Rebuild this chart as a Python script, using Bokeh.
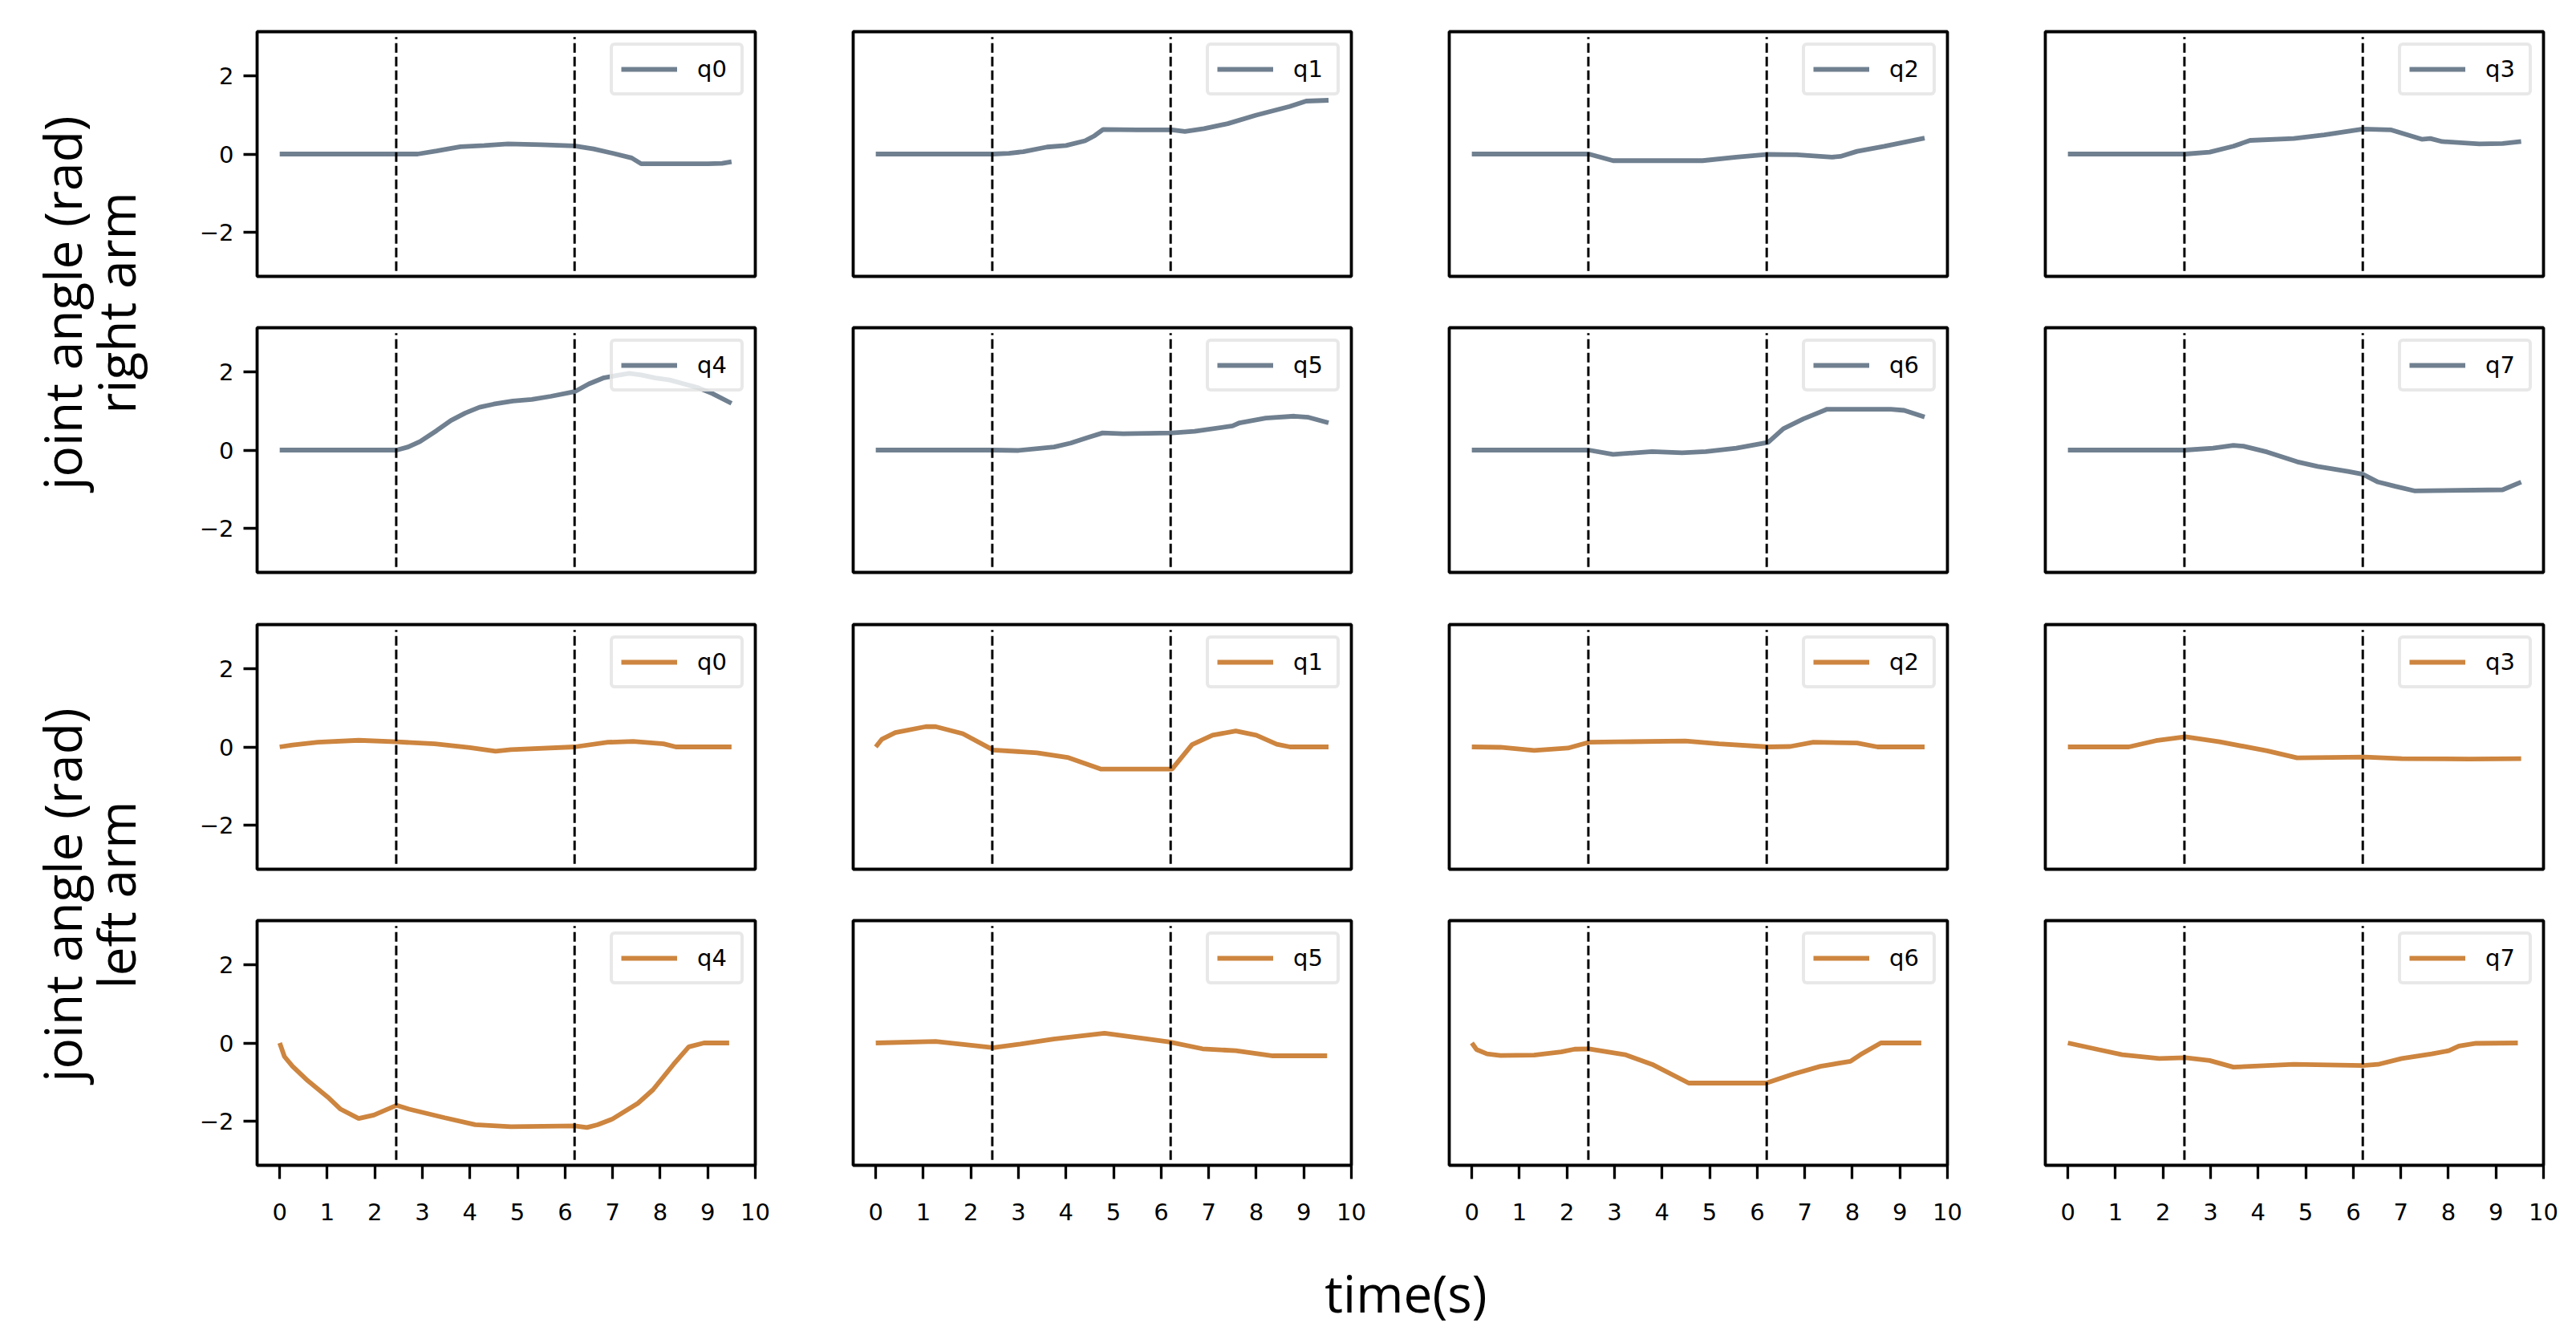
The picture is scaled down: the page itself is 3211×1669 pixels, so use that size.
import math
from bokeh.plotting import figure
from bokeh.layouts import row, column
from bokeh.models import FixedTicker, Legend, LegendItem, Label, Range1d
from bokeh.embed import file_html
from bokeh.resources import INLINE

# ---------------- data ----------------
joint_names = ["q0", "q1", "q2", "q3", "q4", "q5", "q6", "q7"]
phase_lines = [2.45, 6.2]
x_ticks = [0, 1, 2, 3, 4, 5, 6, 7, 8, 9, 10]
y_ticks = [-2, 0, 2]
y_tick_labels = {-2: "\u22122", 0: "0", 2: "2"}
row_labels = [("joint angle (rad)", "right arm"), ("joint angle (rad)", "left arm")]
x_label = "time(s)"

# right arm
r_q0_t = [0, 2.46, 2.9, 3.3, 3.8, 4.3, 4.8, 5.5, 6.2, 6.6, 7.0, 7.4, 7.6, 8.0, 9.0, 9.3, 9.5]
r_q0_v = [0, 0, 0, 0.08, 0.19, 0.22, 0.26, 0.24, 0.21, 0.13, 0.02, -0.1, -0.25, -0.25, -0.25, -0.24, -0.2]
r_q1_t = [0, 2.47, 2.8, 3.1, 3.6, 4.0, 4.4, 4.6, 4.78, 5.5, 6.23, 6.5, 6.9, 7.4, 8.0, 8.7, 9.05, 9.52]
r_q1_v = [0, 0, 0.02, 0.06, 0.18, 0.22, 0.34, 0.47, 0.63, 0.62, 0.62, 0.58, 0.65, 0.78, 1.0, 1.22, 1.36, 1.38]
r_q2_t = [0, 2.46, 2.97, 4.85, 5.56, 6.23, 6.83, 7.57, 7.75, 8.1, 8.67, 9.52]
r_q2_v = [0, 0, -0.17, -0.17, -0.08, -0.01, -0.02, -0.08, -0.06, 0.07, 0.2, 0.41]
r_q3_t = [0, 2.47, 2.98, 3.48, 3.83, 4.75, 5.39, 6.2, 6.8, 7.44, 7.62, 7.87, 8.65, 9.14, 9.53]
r_q3_v = [0, 0, 0.05, 0.2, 0.35, 0.4, 0.49, 0.64, 0.62, 0.38, 0.4, 0.32, 0.26, 0.27, 0.32]
r_q4_t = [0, 2.46, 2.7, 2.95, 3.3, 3.6, 3.9, 4.2, 4.5, 4.9, 5.3, 5.7, 6.2, 6.5, 6.8, 7.1, 7.35, 7.6, 7.9, 8.2, 8.5, 8.8, 9.1, 9.5]
r_q4_v = [0, 0, 0.08, 0.22, 0.5, 0.76, 0.95, 1.1, 1.18, 1.26, 1.3, 1.38, 1.5, 1.7, 1.85, 1.92, 1.97, 1.93, 1.85, 1.8, 1.7, 1.6, 1.45, 1.2]
r_q5_t = [0, 2.47, 3.0, 3.75, 4.1, 4.45, 4.77, 5.2, 6.23, 6.7, 7.5, 7.65, 8.2, 8.8, 9.1, 9.52]
r_q5_v = [0, 0, -0.01, 0.08, 0.18, 0.32, 0.44, 0.42, 0.44, 0.48, 0.62, 0.7, 0.82, 0.87, 0.84, 0.7]
r_q6_t = [0, 2.46, 2.97, 3.79, 4.42, 4.92, 5.56, 6.23, 6.55, 6.97, 7.47, 8.81, 9.09, 9.52]
r_q6_v = [0, 0, -0.11, -0.04, -0.07, -0.04, 0.05, 0.2, 0.55, 0.8, 1.05, 1.05, 1.02, 0.85]
r_q7_t = [0, 2.47, 3.05, 3.48, 3.69, 4.19, 4.82, 5.25, 5.89, 6.2, 6.52, 6.88, 7.3, 9.14, 9.53]
r_q7_v = [0, 0, 0.05, 0.12, 0.1, -0.05, -0.3, -0.42, -0.55, -0.62, -0.82, -0.93, -1.05, -1.02, -0.82]

# left arm
l_q0_t = [0, 0.27, 0.8, 1.66, 2.46, 3.26, 4.0, 4.54, 4.86, 6.2, 6.9, 7.43, 8.07, 8.33, 9.5]
l_q0_v = [0, 0.05, 0.12, 0.17, 0.13, 0.08, -0.02, -0.11, -0.07, 0, 0.12, 0.14, 0.08, 0, 0]
l_q1_t = [0, 0.13, 0.41, 1.05, 1.26, 1.83, 2.47, 3.39, 4.03, 4.74, 6.23, 6.65, 7.08, 7.57, 8.0, 8.43, 8.71, 9.52]
l_q1_v = [0, 0.2, 0.37, 0.52, 0.52, 0.34, -0.08, -0.15, -0.27, -0.57, -0.57, 0.06, 0.3, 0.41, 0.3, 0.07, 0, 0]
l_q2_t = [0, 0.6, 1.31, 2.02, 2.46, 3.08, 4.49, 5.2, 6.23, 6.69, 7.18, 8.1, 8.53, 9.52]
l_q2_v = [0, -0.01, -0.09, -0.03, 0.12, 0.13, 0.15, 0.08, 0, 0.01, 0.12, 0.1, 0, 0]
l_q3_t = [0, 1.28, 1.85, 2.47, 3.19, 4.19, 4.82, 6.24, 7.02, 8.43, 9.53]
l_q3_v = [0, 0, 0.16, 0.26, 0.13, -0.1, -0.28, -0.26, -0.3, -0.31, -0.3]
l_q4_t = [0, 0.1, 0.27, 0.59, 1.01, 1.28, 1.66, 1.98, 2.46, 2.72, 3.47, 4.11, 4.86, 6.2, 6.46, 6.68, 7.0, 7.53, 7.85, 8.28, 8.6, 8.92, 9.45]
l_q4_v = [0, -0.35, -0.6, -0.97, -1.39, -1.7, -1.94, -1.85, -1.6, -1.7, -1.92, -2.1, -2.15, -2.13, -2.17, -2.1, -1.95, -1.55, -1.2, -0.55, -0.1, 0, 0]
l_q5_t = [0, 1.26, 2.47, 3.04, 3.74, 4.81, 6.16, 6.87, 7.57, 8.35, 9.49]
l_q5_v = [0, 0.04, -0.12, -0.03, 0.1, 0.25, 0.03, -0.15, -0.2, -0.33, -0.33]
l_q6_t = [0, 0.1, 0.32, 0.6, 1.31, 1.88, 2.16, 2.46, 3.22, 3.79, 4.56, 6.19, 6.76, 7.33, 7.96, 8.17, 8.6, 9.45]
l_q6_v = [0, -0.17, -0.28, -0.32, -0.31, -0.23, -0.16, -0.15, -0.3, -0.55, -1.03, -1.03, -0.8, -0.6, -0.47, -0.3, 0, 0]
l_q7_t = [0, 0.64, 1.14, 1.92, 2.47, 2.98, 3.48, 4.75, 6.2, 6.52, 7.02, 7.65, 8.01, 8.22, 8.58, 9.46]
l_q7_v = [0, -0.17, -0.3, -0.4, -0.38, -0.45, -0.62, -0.55, -0.58, -0.55, -0.4, -0.28, -0.2, -0.08, -0.01, 0]

right_series = [(r_q0_t, r_q0_v), (r_q1_t, r_q1_v), (r_q2_t, r_q2_v), (r_q3_t, r_q3_v),
                (r_q4_t, r_q4_v), (r_q5_t, r_q5_v), (r_q6_t, r_q6_v), (r_q7_t, r_q7_v)]
left_series = [(l_q0_t, l_q0_v), (l_q1_t, l_q1_v), (l_q2_t, l_q2_v), (l_q3_t, l_q3_v),
               (l_q4_t, l_q4_v), (l_q5_t, l_q5_v), (l_q6_t, l_q6_v), (l_q7_t, l_q7_v)]

# ---------------- style / layout ----------------
RIGHT_COLOR = "#708090"
LEFT_COLOR = "#CD853F"
FRAME_W, FRAME_H = 621, 305
LABEL_W = 200
BL = [120, 61, 61, 61]
BR = [61, 61, 61, 20]
BT = [39, 32, 33, 32]
BB = [32, 32, 32, 90]
TICK_FONT = "DejaVu Sans"
TITLE_FONT = "Open Sans"
TITLE_SIZE = "64px"


def make_panel(t, v, name, color, r, c):
    show_x = (r == 3)
    show_y = (c == 0)
    W = BL[c] + FRAME_W + BR[c]
    H = BT[r] + FRAME_H + BB[r]
    p = figure(width=W, height=H,
               x_range=Range1d(-0.475, 10.0), y_range=Range1d(-math.pi, math.pi),
               output_backend="svg", toolbar_location=None, tools="",
               x_axis_location="below" if show_x else None,
               y_axis_location="left" if show_y else None,
               min_border_left=BL[c], min_border_right=BR[c],
               min_border_top=BT[r], min_border_bottom=BB[r])
    p.xgrid.visible = False
    p.ygrid.visible = False
    p.background_fill_color = "white"
    p.border_fill_color = "white"
    p.outline_line_color = "black"
    p.outline_line_width = 3.8
    p.outline_line_alpha = 1.0

    ln = p.line(t, v, line_color=color, line_width=5.8)
    p.segment(x0=phase_lines, y0=[-3] * len(phase_lines), x1=phase_lines, y1=[3] * len(phase_lines),
              line_color="black", line_width=3, line_dash="12 5")

    for ax in (p.xaxis if show_x else []):
        ax.ticker = FixedTicker(ticks=x_ticks)
        ax.axis_line_color = None
        ax.major_tick_in = 0
        ax.major_tick_out = 17
        ax.major_tick_line_width = 3.3
        ax.major_tick_line_color = "black"
        ax.minor_tick_line_color = None
        ax.major_label_standoff = 30
        ax.major_label_text_font = TICK_FONT
        ax.major_label_text_font_size = "29px"
        ax.major_label_text_color = "black"
    for ax in (p.yaxis if show_y else []):
        ax.ticker = FixedTicker(ticks=y_ticks)
        ax.major_label_overrides = y_tick_labels
        ax.axis_line_color = None
        ax.major_tick_in = 0
        ax.major_tick_out = 17
        ax.major_tick_line_width = 3.3
        ax.major_tick_line_color = "black"
        ax.minor_tick_line_color = None
        ax.major_label_standoff = 12
        ax.major_label_text_font = TICK_FONT
        ax.major_label_text_font_size = "29px"
        ax.major_label_text_color = "black"

    legend = Legend(items=[LegendItem(label=name, renderers=[ln])], location="top_right")
    legend.margin = 14
    legend.padding = 10
    legend.glyph_width = 70
    legend.glyph_height = 38
    legend.label_height = 38
    legend.label_width = 44
    legend.label_standoff = 25
    legend.label_text_font = TICK_FONT
    legend.label_text_font_size = "29px"
    legend.label_text_color = "black"
    legend.border_line_color = "#d2d2d2"
    legend.border_line_width = 4.5
    legend.background_fill_color = "white"
    legend.background_fill_alpha = 0.8
    try:
        legend.border_radius = 6
    except Exception:
        pass
    p.add_layout(legend)
    return p


rows = []
all_series = [(right_series[0:4], RIGHT_COLOR, 0), (right_series[4:8], RIGHT_COLOR, 4),
              (left_series[0:4], LEFT_COLOR, 0), (left_series[4:8], LEFT_COLOR, 4)]
for r, (series, color, offset) in enumerate(all_series):
    figs = []
    for c, (t, v) in enumerate(series):
        figs.append(make_panel(t, v, joint_names[offset + c], color, r, c))
    rows.append(row(*figs, spacing=0))
grid = column(*rows, spacing=0)

grid_h = sum(BT[r] + FRAME_H + BB[r] for r in range(4))
grid_w = sum(BL[c] + FRAME_W + BR[c] for c in range(4))

# left label strip
lab = figure(width=LABEL_W, height=grid_h, x_range=Range1d(0, 1), y_range=Range1d(0, 1),
             output_backend="svg", toolbar_location=None, tools="",
             x_axis_location=None, y_axis_location=None,
             min_border=0, min_border_left=0, min_border_right=0, min_border_top=0, min_border_bottom=0)
lab.outline_line_color = None
lab.xgrid.visible = False
lab.ygrid.visible = False
centers = [grid_h - 377, grid_h - 1115]
for (l1, l2), cy in zip(row_labels, centers):
    for txt, cx in ((l1, 77), (l2, 144)):
        lab.add_layout(Label(x=cx, y=cy, x_units="screen", y_units="screen", text=txt,
                             angle=math.pi / 2, text_align="center", text_baseline="middle",
                             text_font=TITLE_FONT, text_font_size=TITLE_SIZE, text_color="black"))

# bottom label strip
BOT_H = 120
bot = figure(width=LABEL_W + grid_w, height=BOT_H, x_range=Range1d(0, 1), y_range=Range1d(0, 1),
             output_backend="svg", toolbar_location=None, tools="",
             x_axis_location=None, y_axis_location=None,
             min_border=0, min_border_left=0, min_border_right=0, min_border_top=0, min_border_bottom=0)
bot.outline_line_color = None
bot.xgrid.visible = False
bot.ygrid.visible = False
bot.add_layout(Label(x=1752, y=BOT_H - 69, x_units="screen", y_units="screen", text=x_label,
                     text_align="center", text_baseline="middle",
                     text_font=TITLE_FONT, text_font_size=TITLE_SIZE, text_color="black"))

page = column(row(lab, grid, spacing=0), bot, spacing=0)

open("out.html", "w").write(file_html(page, INLINE))
